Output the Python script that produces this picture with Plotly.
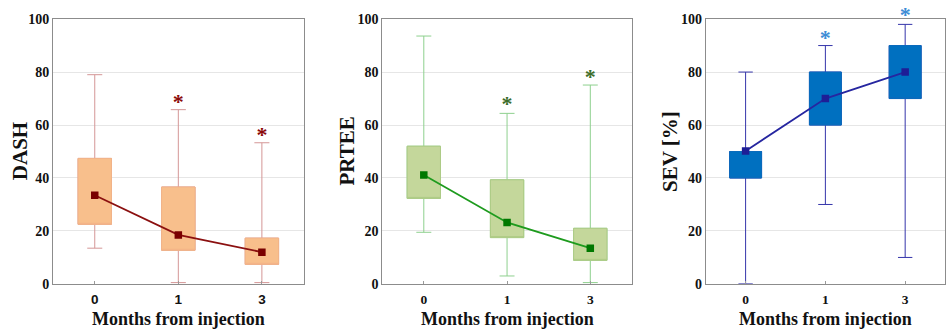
import plotly.graph_objects as go

months = ["0", "1", "3"]

dash_low = [13.5, 0.5, 0.5]
dash_q1 = [22.5, 12.7, 7.4]
dash_q3 = [47.4, 36.6, 17.3]
dash_high = [79.0, 65.8, 53.3]
dash_mean = [33.5, 18.5, 12.0]
dash_star = [None, 68.0, 55.8]

prtee_low = [19.5, 3.0, 0.5]
prtee_q1 = [32.3, 17.5, 8.9]
prtee_q3 = [52.0, 39.3, 21.0]
prtee_high = [93.6, 64.4, 75.1]
prtee_mean = [41.1, 23.2, 13.5]
prtee_star = [None, 67.3, 77.5]

sev_low = [0.0, 30.0, 10.0]
sev_q1 = [40.0, 60.0, 70.0]
sev_q3 = [50.0, 80.0, 90.0]
sev_high = [80.0, 90.0, 98.0]
sev_mean = [50.2, 70.0, 80.0]
sev_star = [None, 92.3, 101.0]

panels = [
    dict(name="DASH", low=dash_low, q1=dash_q1, q3=dash_q3, high=dash_high,
         mean=dash_mean, star=dash_star, fill="#F8BF8C", edge="#F3B488",
         whisk="#D49696", line="#8B1010", marker="#7A0000", starc="#8B0A0A",
         dom=[0.056, 0.321], title="DASH", tx=0.022),
    dict(name="PRTEE", low=prtee_low, q1=prtee_q1, q3=prtee_q3, high=prtee_high,
         mean=prtee_mean, star=prtee_star, fill="#C4D79B", edge="#AECB86",
         whisk="#8ED08E", line="#1E9B1E", marker="#007800", starc="#3C6E2A",
         dom=[0.404, 0.668], title="PRTEE", tx=0.367),
    dict(name="SEV", low=sev_low, q1=sev_q1, q3=sev_q3, high=sev_high,
         mean=sev_mean, star=sev_star, fill="#0070C0", edge="#0A6CBC",
         whisk="#3535AA", line="#2626A0", marker="#1E1E96", starc="#3C8DD6",
         dom=[0.746, 0.999], title="SEV [%]", tx=0.709),
]

serif = "Liberation Serif, Times New Roman, serif"
Y_DOM = [0.137, 0.942]
Y_MAX = 100
STAR_DOM = [0.137, 1.0]
STAR_MAX = Y_MAX * (STAR_DOM[1] - STAR_DOM[0]) / (Y_DOM[1] - Y_DOM[0])

fig = go.Figure()
annotations = []
axes = {}

for i, p in enumerate(panels):
    xa = "x" if i == 0 else f"x{i+1}"
    ya = "y" if i == 0 else f"y{i+1}"
    sxa, sya = f"x{i+4}", f"y{i+4}"
    # whiskers (full range box)
    fig.add_trace(go.Box(
        x=months, q1=p["q1"], median=p["q1"], q3=p["q3"],
        lowerfence=p["low"], upperfence=p["high"],
        fillcolor=p["fill"], line=dict(color=p["whisk"], width=1),
        width=0.4, whiskerwidth=0.45, boxpoints=False, hoverinfo="skip",
        xaxis=xa, yaxis=ya, showlegend=False))
    # box body with its own edge colour
    fig.add_trace(go.Box(
        x=months, q1=p["q1"], median=p["q1"], q3=p["q3"],
        lowerfence=p["q1"], upperfence=p["q3"],
        fillcolor=p["fill"], line=dict(color=p["edge"], width=1),
        width=0.4, whiskerwidth=0, boxpoints=False, hoverinfo="skip",
        xaxis=xa, yaxis=ya, showlegend=False))
    # mean line
    fig.add_trace(go.Scatter(
        x=months, y=p["mean"], mode="lines+markers",
        line=dict(color=p["line"], width=1.8),
        marker=dict(symbol="square", size=7.5, color=p["marker"]),
        xaxis=xa, yaxis=ya, showlegend=False))
    # significance stars on a same-scale hidden axis that extends above the frame
    fig.add_trace(go.Scatter(
        x=months, y=p["star"], mode="text",
        text=["<b>*</b>" if s is not None else "" for s in p["star"]],
        textposition="middle center",
        textfont=dict(family=serif, size=22, color=p["starc"]),
        cliponaxis=False, hoverinfo="skip",
        xaxis=sxa, yaxis=sya, showlegend=False))

    tickfont_x = dict(family=("Liberation Sans Narrow, Arial Narrow, Liberation Sans, sans-serif" if i == 0 else serif),
                      size=13.5, color="#111", weight="bold")
    xdict = dict(domain=p["dom"], type="category", categoryorder="array", categoryarray=months,
                 range=[-0.5, 2.5], showgrid=False, showline=True, linecolor="#8C8C8C",
                 linewidth=1, mirror=True, ticks="inside", ticklen=3, tickcolor="#999",
                 tickfont=tickfont_x, ticklabelstandoff=3, anchor=ya, zeroline=False,
                 automargin=False)
    ydict = dict(domain=Y_DOM, range=[0, Y_MAX], tickvals=[0, 20, 40, 60, 80, 100],
                 showgrid=True, gridcolor="#E6E6E6", gridwidth=1, showline=True,
                 linecolor="#8C8C8C", linewidth=1, mirror=True, ticks="",
                 tickfont=dict(family=serif, size=14, color="#111", weight="bold"),
                 anchor=xa, zeroline=False, automargin=False)
    axes["xaxis" if i == 0 else f"xaxis{i+1}"] = xdict
    axes["yaxis" if i == 0 else f"yaxis{i+1}"] = ydict
    axes[f"xaxis{i+4}"] = dict(domain=p["dom"], type="category", categoryorder="array",
                               categoryarray=months, range=[-0.5, 2.5], visible=False,
                               anchor=sya, automargin=False)
    axes[f"yaxis{i+4}"] = dict(domain=STAR_DOM, range=[0, STAR_MAX], visible=False,
                               anchor=sxa, automargin=False)

    annotations.append(dict(text="<b>Months from injection</b>", xref="paper", yref="paper",
                            x=(p["dom"][0] + p["dom"][1]) / 2, y=0.031, xanchor="center",
                            yanchor="middle", showarrow=False,
                            font=dict(family=serif, size=18, color="#111")))
    annotations.append(dict(text=f"<b>{p['title']}</b>", xref="paper", yref="paper",
                            x=p["tx"], y=0.54, xanchor="center", yanchor="middle",
                            textangle=-90, showarrow=False,
                            font=dict(family=serif, size=21, color="#111")))

fig.update_layout(width=946, height=329, margin=dict(l=0, r=0, t=0, b=0, autoexpand=False),
                  paper_bgcolor="white", plot_bgcolor="rgba(0,0,0,0)", boxmode="overlay",
                  annotations=annotations, **axes)

fig.write_html("out.html")
